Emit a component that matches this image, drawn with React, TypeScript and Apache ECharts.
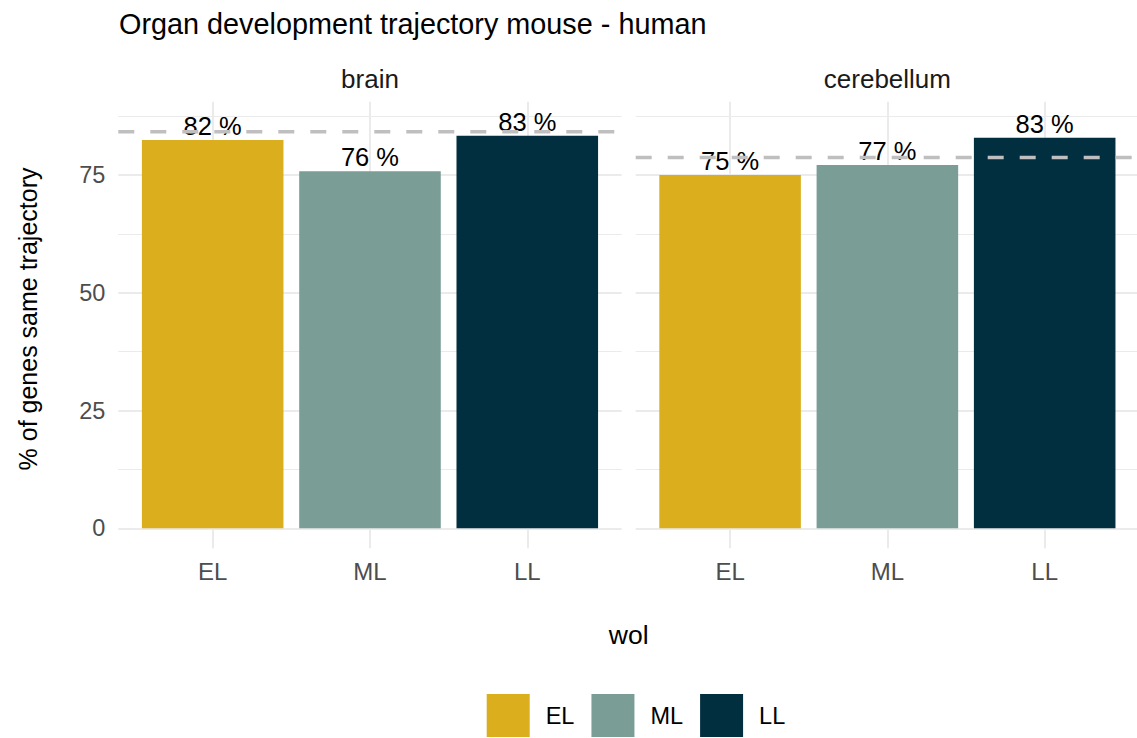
import React, { useEffect, useRef } from "react";
import * as echarts from "echarts";

const facets = ["brain", "cerebellum"];
const categories = ["EL", "ML", "LL"];
const brainValues = [82.4, 75.8, 83.3];
const cerebellumValues = [75.0, 77.1, 82.9];
const facetValues = [brainValues, cerebellumValues];
const referenceLines = [84.2, 78.7];
const colors = ["#DBAE1E", "#7A9D96", "#022F40"];
const majorTickStep = 25;

const FONT = "'Liberation Sans', Arial, Helvetica, sans-serif";
const Y0 = 528.3;
const PX = 4.711;
const PANEL_TOP = 101.7;
const PANEL_BOTTOM = 548.3;
const BAND = 157.3;
const panelLefts = [118.3, 635.7];

function buildOption() {
  const grid: any[] = [];
  const xAxis: any[] = [];
  const yAxis: any[] = [];
  const series: any[] = [];
  const graphic: any[] = [];

  panelLefts.forEach((L, p) => {
    const W = 3.2 * BAND;
    // major horizontal grid lines
    const gMaj = grid.length;
    grid.push({ left: L, width: W, top: Y0 - 75 * PX, height: 75 * PX, containLabel: false });
    xAxis.push({ gridIndex: gMaj, type: "value", min: 0, max: 1, show: false });
    yAxis.push({
      gridIndex: gMaj, type: "value", min: 0, max: 75, interval: majorTickStep,
      axisLine: { show: false }, axisTick: { show: false },
      axisLabel: { show: p === 0, color: "#4d4d4d", fontSize: 23.5, fontFamily: FONT, margin: 13 },
      splitLine: { show: true, lineStyle: { color: "#ebebeb", width: 2 } },
    });
    // minor horizontal grid lines + reference line
    const gMin = grid.length;
    grid.push({ left: L, width: W, top: Y0 - 87.5 * PX, height: 75 * PX });
    xAxis.push({ gridIndex: gMin, type: "value", min: 0, max: 1, show: false });
    yAxis.push({
      gridIndex: gMin, type: "value", min: 12.5, max: 87.5, interval: majorTickStep,
      axisLine: { show: false }, axisTick: { show: false }, axisLabel: { show: false },
      splitLine: { show: true, lineStyle: { color: "#ebebeb", width: 1 } },
    });
    // vertical grid lines at category centres
    const gV = grid.length;
    grid.push({ left: L + 0.6 * BAND, width: 2 * BAND, top: PANEL_TOP, height: PANEL_BOTTOM - PANEL_TOP });
    xAxis.push({
      gridIndex: gV, type: "value", min: 0, max: 2, interval: 1,
      axisLine: { show: false }, axisTick: { show: false }, axisLabel: { show: false },
      splitLine: { show: true, lineStyle: { color: "#ebebeb", width: 2 } },
    });
    yAxis.push({ gridIndex: gV, type: "value", min: 0, max: 1, show: false });
    // bars
    const gB = grid.length;
    grid.push({ left: L + 0.1 * BAND, width: 3 * BAND, top: PANEL_TOP, height: PANEL_BOTTOM - PANEL_TOP });
    xAxis.push({
      gridIndex: gB, type: "category", data: categories,
      axisLine: { show: false }, axisTick: { show: false }, splitLine: { show: false },
      axisLabel: { color: "#4d4d4d", fontSize: 24, fontFamily: FONT, margin: 11 },
    });
    yAxis.push({
      gridIndex: gB, type: "value",
      min: (Y0 - PANEL_BOTTOM) / PX, max: (Y0 - PANEL_TOP) / PX, show: false,
      splitLine: { show: false },
    });
    const vals = facetValues[p];
    categories.forEach((c, i) => {
      series.push({
        name: c, type: "bar", xAxisIndex: gB, yAxisIndex: gB,
        data: categories.map((_, j) => (j === i ? vals[i] : "-")),
        barWidth: 0.9 * BAND, barGap: "-100%",
        itemStyle: { color: colors[i] },
        z: 2,
        label: {
          show: true, position: "top", distance: 1, color: "#000", fontSize: 25.5, fontFamily: FONT,
          formatter: (d: any) => `${Math.round(d.value)} %`,
        },
      });
    });
    series.push({
      name: "ref" + p, type: "line", xAxisIndex: gMin, yAxisIndex: gMin,
      data: [[0, referenceLines[p]], [1, referenceLines[p]]],
      symbol: "none", silent: true, z: 3,
      lineStyle: { color: "#bfbfbf", width: 3.5, type: [16, 16] },
    });
    graphic.push({
      type: "text", x: L + W / 2, y: 79,
      style: { text: facets[p], fill: "#1a1a1a", font: `26px ${FONT}`, textAlign: "center", textVerticalAlign: "middle" },
    });
  });

  graphic.push({
    type: "text", x: (118.3 + 1139) / 2, y: 635,
    style: { text: "wol", fill: "#000", font: `26.5px ${FONT}`, textAlign: "center", textVerticalAlign: "middle" },
  });
  graphic.push({
    type: "text", x: 28, y: 319, rotation: Math.PI / 2,
    style: { text: "% of genes same trajectory", fill: "#000", font: `25px ${FONT}`, textAlign: "center", textVerticalAlign: "middle" },
  });
  graphic.push({
    type: "text", x: 119, y: 24,
    style: { text: "Organ development trajectory mouse - human", fill: "#000", font: `28.8px ${FONT}`, textAlign: "left", textVerticalAlign: "middle" },
  });

  return {
    animation: false,
    backgroundColor: "#ffffff",
    grid, xAxis, yAxis, series, graphic,
    legend: {
      data: categories, left: 481.7, top: 689, orient: "horizontal",
      itemWidth: 43, itemHeight: 43, itemGap: 17, icon: "rect",
      textStyle: { color: "#000", fontSize: 23.5, fontFamily: FONT, padding: [0, 0, 0, 11] },
      selectedMode: false,
    },
  };
}

export default function App() {
  const ref = useRef<HTMLDivElement>(null);
  useEffect(() => {
    if (!ref.current) return;
    const chart = echarts.init(ref.current, undefined, { renderer: "svg" });
    chart.setOption(buildOption() as any);
    return () => chart.dispose();
  }, []);
  return (
    <div
      ref={ref}
      style={{ position: "fixed", left: 0, top: 0, width: 1137, height: 738, background: "#fff" }}
    />
  );
}
